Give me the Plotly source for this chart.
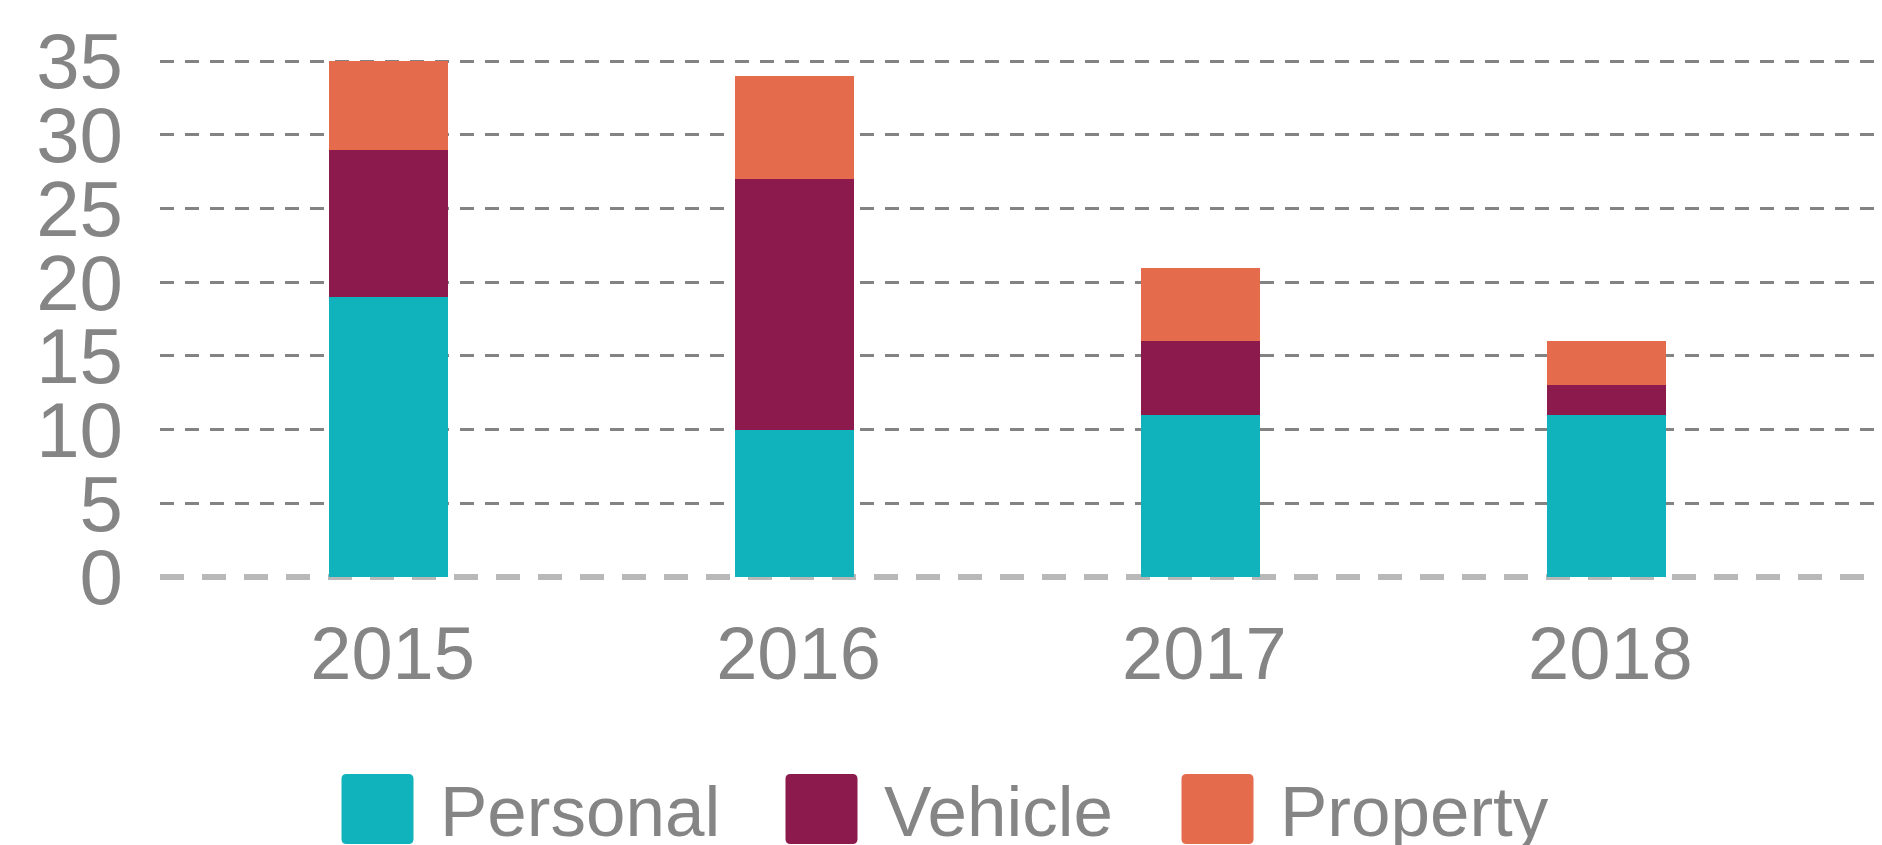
import plotly.graph_objects as go

years = ["2015", "2016", "2017", "2018"]
personal = [19, 10, 11, 11]
vehicle = [10, 17, 5, 2]
property_ = [6, 7, 5, 3]

series_names = ["Personal", "Vehicle", "Property"]
series_values = [personal, vehicle, property_]
series_colors = ["#10b3bb", "#8c1a4d", "#e56b4d"]

y_ticks = [0, 5, 10, 15, 20, 25, 30, 35]

FONT = "Liberation Sans, Arial, sans-serif"
TEXT_GRAY = "#858585"

fig = go.Figure()
for name, vals, col in zip(series_names, series_values, series_colors):
    fig.add_trace(go.Bar(x=years, y=vals, name=name, marker=dict(color=col, line=dict(width=0)),
                         showlegend=False))

# page has an 8px body margin; figure sized to fill the rest of the window
OFF = 8
W, H = 1882 - OFF, 845 - OFF
ml, mr, mt, mb = 152, 0, 31, 262

fig.update_layout(
    width=W, height=H,
    barmode="stack", bargap=0.707,
    plot_bgcolor="white", paper_bgcolor="white",
    margin=dict(l=ml, r=mr, t=mt, b=mb, autoexpand=False),
    font=dict(family=FONT, color=TEXT_GRAY),
    xaxis=dict(type="category", range=[-0.563, 3.679], showgrid=False, showline=False,
               zeroline=False, ticks="", tickfont=dict(size=74, color=TEXT_GRAY),
               ticklabelstandoff=21, ticklabelshift=4, automargin=False),
    yaxis=dict(range=[-0.4, 36.5], tickvals=y_ticks, ticktext=[str(v) for v in y_ticks],
               showgrid=True, gridcolor="#838383", gridwidth=3, griddash="14px,11px",
               zeroline=True, zerolinecolor="rgba(0,0,0,0)", showline=False, ticks="",
               tickfont=dict(size=78, color=TEXT_GRAY), ticklabelstandoff=36,
               automargin=False),
)

# baseline at zero (light, thick dashed)
fig.add_shape(type="line", xref="paper", x0=0, x1=1, yref="y", y0=0, y1=0,
              line=dict(color="#b8b8b8", width=6, dash="24px,18px"), layer="below")

# custom legend with large rounded swatches (positions in page pixels)
plot_w = W - ml - mr
plot_h = H - mt - mb
def px_to_paper_x(px):
    return (px - OFF - ml) / plot_w
def px_to_paper_y(py):
    return (H - mb - (py - OFF)) / plot_h

swatch_centers_px = [377.5, 821.5, 1217.5]
swatch_cy_px = 809
sx, sy = 36, 35
r = 5
path = (f"M {-sx+r},{-sy} L {sx-r},{-sy} Q {sx},{-sy} {sx},{-sy+r} L {sx},{sy-r} Q {sx},{sy} {sx-r},{sy} "
        f"L {-sx+r},{sy} Q {-sx},{sy} {-sx},{sy-r} L {-sx},{-sy+r} Q {-sx},{-sy} {-sx+r},{-sy} Z")
for name, col, cx in zip(series_names, series_colors, swatch_centers_px):
    fig.add_shape(type="path", xref="paper", yref="paper", xsizemode="pixel", ysizemode="pixel",
                  xanchor=px_to_paper_x(cx), yanchor=px_to_paper_y(swatch_cy_px),
                  path=path, fillcolor=col, line=dict(width=0))
    fig.add_annotation(xref="paper", yref="paper", x=px_to_paper_x(cx + sx + 24),
                       y=px_to_paper_y(811), xanchor="left", yanchor="middle",
                       text=name, showarrow=False,
                       font=dict(size=71, color=TEXT_GRAY, family=FONT))

fig.write_html("out.html")
